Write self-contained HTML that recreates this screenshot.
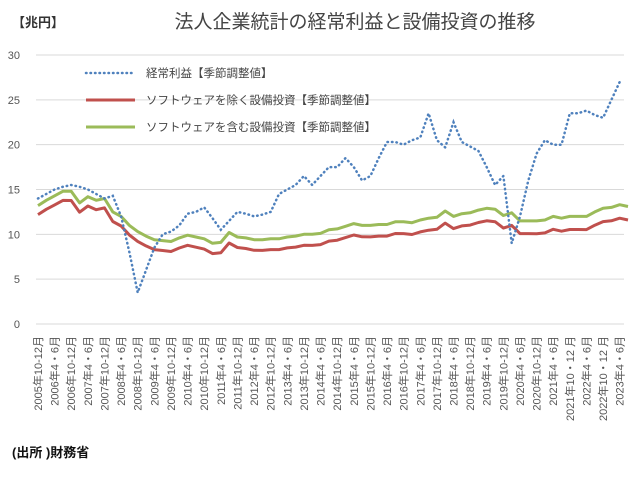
<!DOCTYPE html>
<html><head><meta charset="utf-8"><style>
body{margin:0;background:#fff;width:640px;height:479px;overflow:hidden;font-family:"Liberation Sans","Noto Sans CJK JP",sans-serif}
</style></head><body>
<svg id="s" width="640" height="479" xmlns="http://www.w3.org/2000/svg" font-family="Liberation Sans, Noto Sans CJK JP, sans-serif">
<text x="12" y="27" font-size="13" font-weight="bold" fill="#333">【兆円】</text>
<text x="355" y="28" font-size="19" fill="#444" text-anchor="middle">法人企業統計の経常利益と設備投資の推移</text>
<text x="12" y="457" font-size="13" font-weight="bold" fill="#111">(出所 )財務省</text>
</svg>
<script>
var s=document.getElementById('s'),NS='http://www.w3.org/2000/svg';
function el(t,a,txt){var e=document.createElementNS(NS,t);for(var k in a)e.setAttribute(k,a[k]);if(txt)e.textContent=txt;s.appendChild(e);return e;}
var y0=324,u=8.967,x0=38,dx=8.31;
for(var v=0;v<=30;v+=5){var y=y0-v*u;el('line',{x1:36,x2:624,y1:y,y2:y,stroke:'#d9d9d9','stroke-width':1});el('text',{x:20,y:y+4,'font-size':11,fill:'#555','text-anchor':'end'},String(v));}
var B=[14,14.5,15,15.3,15.5,15.3,15,14.5,14,14.3,12,8,3.5,6,8.5,10,10.3,11,12.3,12.5,13,11.8,10.5,11.5,12.5,12.3,12,12.2,12.5,14.5,15,15.5,16.5,15.5,16.5,17.5,17.5,18.5,17.5,16,16.5,18.5,20.3,20.3,20,20.5,20.8,23.5,20.5,19.7,22.5,20.3,19.8,19.3,17.5,15.5,16.5,9,12,16,19,20.5,20,20,23.5,23.5,23.8,23.3,23,25,27];
var G=[13.2,13.8,14.3,14.8,14.8,13.5,14.2,13.8,14,12.5,12,11,10.3,9.8,9.4,9.3,9.2,9.6,9.9,9.7,9.5,9,9.1,10.2,9.7,9.6,9.4,9.4,9.5,9.5,9.7,9.8,10,10,10.1,10.5,10.6,10.9,11.2,11,11,11.1,11.1,11.4,11.4,11.3,11.6,11.8,11.9,12.6,12,12.3,12.4,12.7,12.9,12.8,12.1,12.4,11.5,11.5,11.5,11.6,12,11.8,12,12,12,12.5,12.9,13,13.3,13.1];
function pts(a){return a.map(function(v,i){return (x0+i*dx).toFixed(1)+','+(y0-v*u).toFixed(1)}).join(' ');}
var R=G.map(function(v,i){return v-1.0-0.5*i/70;});
el('polyline',{points:pts(G),fill:'none',stroke:'#9bbb59','stroke-width':3,'stroke-linejoin':'round'});
el('polyline',{points:pts(R),fill:'none',stroke:'#c0504d','stroke-width':3,'stroke-linejoin':'round'});
el('polyline',{points:pts(B),fill:'none',stroke:'#4f81bd','stroke-width':2.5,'stroke-dasharray':'0.5 4','stroke-linecap':'round'});
for(var k=0;k<36;k++){var q=3+2*k;var yr=2005+Math.floor(q/4);var lab=(q%4==3)?yr+'年10-12月':yr+'年4・6月';if(yr==2021&&q%4==3)lab='2021年10・12 月';if(yr==2022&&q%4==3)lab='2022年10・12 月';
var x=x0+2*k*dx+4;el('text',{x:0,y:0,'font-size':11,fill:'#555','text-anchor':'end',transform:'translate('+x+',336) rotate(-90)'},lab);}
var L=[['経常利益【季節調整値】','#4f81bd',1],['ソフトウェアを除く設備投資【季節調整値】','#c0504d',0],['ソフトウェアを含む設備投資【季節調整値】','#9bbb59',0]];
L.forEach(function(l,i){var y=73+i*27;var a={x1:86,x2:135,y1:y,y2:y,stroke:l[1],'stroke-width':l[2]?2.5:3};if(l[2]){a['stroke-dasharray']='0.5 4';a['stroke-linecap']='round';}el('line',a);el('text',{x:146,y:y+4,'font-size':11.5,fill:'#444'},l[0]);});
</script>
</body></html>
